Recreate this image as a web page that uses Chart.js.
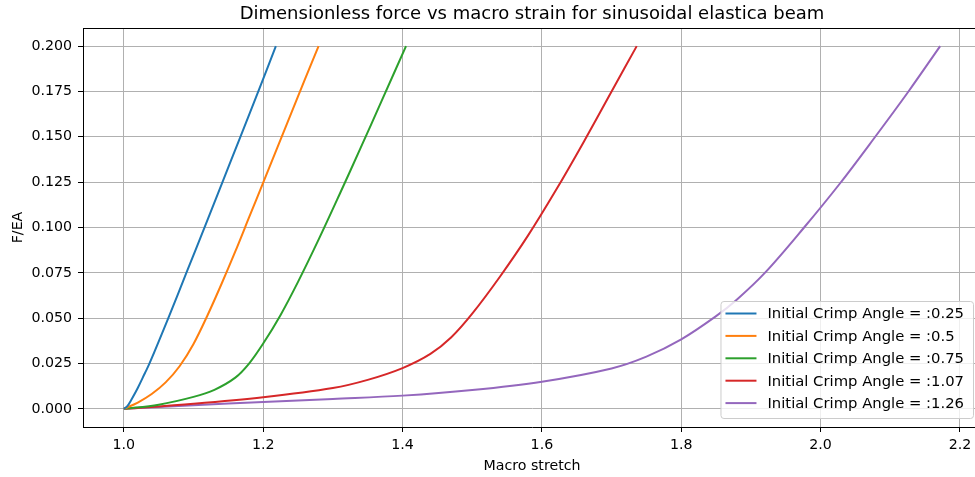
<!DOCTYPE html>
<html>
<head>
<meta charset="utf-8">
<script src="https://cdn.jsdelivr.net/npm/chart.js@4.4.0/dist/chart.umd.min.js"></script>
<style>
  html, body { margin: 0; padding: 0; background: #fff; overflow: hidden; }
  #wrap { width: 975px; height: 477px; overflow: hidden; }
</style>
</head>
<body>
<div id="wrap"><canvas id="chart" width="982" height="477"></canvas></div>
<script>
// Legend labels and line colours (matplotlib default cycle)
const crimpAngles = ['0.25', '0.5', '0.75', '1.07', '1.26'];
const lineColors = ['#1f77b4', '#ff7f0e', '#2ca02c', '#d62728', '#9467bd'];

// Macro stretch / dimensionless force pairs
const stretch025 = [1.0, 1.005, 1.01, 1.02, 1.03, 1.037, 1.065, 1.09, 1.116, 1.141, 1.167, 1.193, 1.2182];
const force025   = [0, 0.0015, 0.0045, 0.0115, 0.0195, 0.0252, 0.0512, 0.0752, 0.1002, 0.1245, 0.1497, 0.175, 0.2];

const stretch05 = [1.0, 1.02, 1.04, 1.06, 1.08, 1.1, 1.12, 1.14, 1.16, 1.18, 1.2, 1.22, 1.24, 1.26, 1.2795];
const force05   = [0, 0.0035, 0.0082, 0.0146, 0.0235, 0.0358, 0.0515, 0.0687, 0.0868, 0.1058, 0.1248, 0.1438, 0.1628, 0.1818, 0.2];

const stretch075 = [1.0, 1.05, 1.1, 1.13, 1.16, 1.18, 1.2, 1.225, 1.25, 1.28, 1.31, 1.34, 1.37, 1.405];
const force075   = [0, 0.0023, 0.0066, 0.0105, 0.0172, 0.0251, 0.036, 0.0518, 0.07, 0.0937, 0.1186, 0.144, 0.1698, 0.2];

const stretch107 = [1.0, 1.1, 1.2, 1.3, 1.35, 1.4, 1.44, 1.47, 1.5, 1.54, 1.58, 1.62, 1.66, 1.7, 1.7361];
const force107   = [0, 0.0028, 0.0064, 0.0115, 0.016, 0.0225, 0.0303, 0.0395, 0.0525, 0.073, 0.0955, 0.1205, 0.1472, 0.175, 0.2];

const stretch126 = [1.0, 1.1, 1.2, 1.3, 1.4, 1.5, 1.6, 1.7, 1.75, 1.8, 1.85, 1.88, 1.9203, 1.9763, 2.028, 2.0768, 2.1261, 2.1716];
const force126   = [0, 0.002, 0.0038, 0.0055, 0.0073, 0.0104, 0.015, 0.0223, 0.0288, 0.0383, 0.0511, 0.0603, 0.0751, 0.1, 0.1244, 0.1492, 0.175, 0.2];

const xTicks = [1.0, 1.2, 1.4, 1.6, 1.8, 2.0, 2.2];
const yTicks = [0, 0.025, 0.05, 0.075, 0.1, 0.125, 0.15, 0.175, 0.2];

const series = [
  [stretch025, force025],
  [stretch05, force05],
  [stretch075, force075],
  [stretch107, force107],
  [stretch126, force126]
];

Chart.defaults.font.family = '"DejaVu Sans", sans-serif';
Chart.defaults.color = '#000';

// top spine (right one falls outside the visible window)
const frame = {
  id: 'frame',
  afterDatasetsDraw(chart) {
    const { ctx, chartArea } = chart;
    ctx.save();
    ctx.strokeStyle = '#000';
    ctx.lineWidth = 1;
    ctx.beginPath();
    ctx.moveTo(chartArea.left, chartArea.top + 0.5);
    ctx.lineTo(chartArea.right, chartArea.top + 0.5);
    ctx.stroke();
    ctx.restore();
  }
};

// matplotlib-like legend box in the lower right corner
const legendBox = {
  id: 'legendBox',
  afterDraw(chart) {
    const { ctx, chartArea } = chart;
    const fs = 14.8;
    ctx.save();
    ctx.font = fs + 'px "DejaVu Sans"';
    const labels = chart.data.datasets.map(d => d.label);
    const textW = Math.max(...labels.map(t => ctx.measureText(t).width));
    const w = 48 + textW + 8;
    const h = 117;
    const x = chartArea.right - 8 - w;
    const y = chartArea.bottom - 9 - h;
    ctx.beginPath();
    ctx.roundRect(x + 0.5, y + 0.5, w, h, 3);
    ctx.fillStyle = 'rgba(255,255,255,0.8)';
    ctx.fill();
    ctx.strokeStyle = '#cccccc';
    ctx.lineWidth = 1;
    ctx.stroke();
    chart.data.datasets.forEach((ds, i) => {
      const cy = y + 12.5 + i * 22.4;
      ctx.strokeStyle = ds.borderColor;
      ctx.lineWidth = 2;
      ctx.beginPath();
      ctx.moveTo(x + 5, cy);
      ctx.lineTo(x + 36, cy);
      ctx.stroke();
      ctx.fillStyle = '#000';
      ctx.textBaseline = 'middle';
      ctx.fillText(ds.label, x + 47, cy + 1);
    });
    ctx.restore();
  }
};

const datasets = series.map((s, i) => ({
  label: 'Initial Crimp Angle = :' + crimpAngles[i],
  data: s[0].map((v, j) => ({ x: v, y: s[1][j] })),
  borderColor: lineColors[i],
  backgroundColor: lineColors[i],
  borderWidth: 2,
  pointRadius: 0,
  showLine: true,
  fill: false,
  tension: 0.35
}));

const tickFont = { size: 14.2 };

new Chart(document.getElementById('chart'), {
  type: 'scatter',
  data: { datasets: datasets },
  options: {
    responsive: false,
    animation: false,
    devicePixelRatio: 1,
    layout: { padding: { left: 0, right: 1, top: 0, bottom: 0 } },
    plugins: {
      legend: { display: false },
      tooltip: { enabled: false },
      title: {
        display: true,
        fullSize: false,
        text: 'Dimensionless force vs macro strain for sinusoidal elastica beam',
        color: '#000',
        font: { size: 18, weight: 'normal' },
        padding: { top: 4, bottom: 2.4 }
      }
    },
    scales: {
      x: {
        type: 'linear',
        min: 0.9414,
        max: 2.2302,
        afterBuildTicks: scale => { scale.ticks = xTicks.map(v => ({ value: v })); },
        afterFit: scale => { scale.height = 50; },
        ticks: {
          color: '#000',
          font: tickFont,
          padding: 5,
          maxRotation: 0,
          callback: v => v.toFixed(1)
        },
        grid: { color: '#b0b0b0', lineWidth: 1, tickLength: 5, tickColor: '#000', drawTicks: true },
        border: { color: '#000', width: 1 },
        title: {
          display: true,
          text: 'Macro stretch',
          color: '#000',
          font: tickFont,
          padding: { top: 0, bottom: 2 }
        }
      },
      y: {
        min: -0.01,
        max: 0.21,
        afterBuildTicks: scale => { scale.ticks = yTicks.map(v => ({ value: v })); },
        afterFit: scale => { scale.width = 83; },
        ticks: {
          color: '#000',
          font: tickFont,
          padding: 6,
          callback: v => v.toFixed(3)
        },
        grid: { color: '#b0b0b0', lineWidth: 1, tickLength: 5, tickColor: '#000', drawTicks: true },
        border: { color: '#000', width: 1 },
        title: {
          display: true,
          text: 'F/EA',
          color: '#000',
          font: tickFont,
          padding: { top: 10, bottom: 0 }
        }
      }
    }
  },
  plugins: [frame, legendBox]
});
</script>
</body>
</html>
